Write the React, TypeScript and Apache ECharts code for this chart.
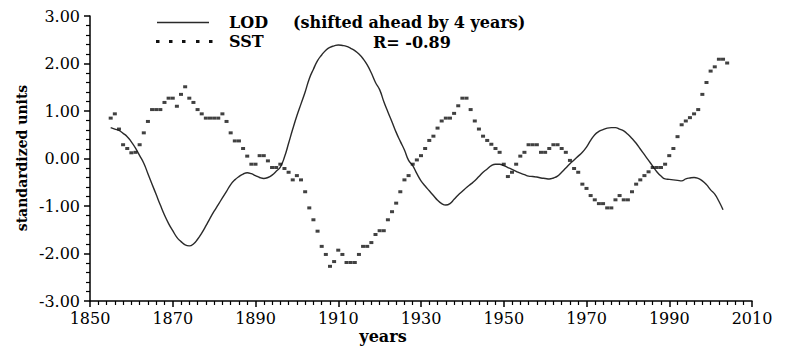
import React, { useEffect, useRef } from "react";
import * as echarts from "echarts";

const lodStartYear = 1855;
const lodValues = [
  0.65, 0.62, 0.59, 0.53, 0.46, 0.35, 0.22, 0.06, -0.10, -0.32,
  -0.54, -0.76, -0.98, -1.19, -1.37, -1.52, -1.66, -1.75, -1.82, -1.84,
  -1.80, -1.70, -1.57, -1.42, -1.26, -1.11, -0.97, -0.83, -0.69, -0.55,
  -0.45, -0.38, -0.33, -0.30, -0.32, -0.36, -0.40, -0.42, -0.40, -0.35,
  -0.27, -0.18, 0.03, 0.32, 0.62, 0.90, 1.15, 1.40, 1.68, 1.88,
  2.06, 2.18, 2.28, 2.34, 2.37, 2.39, 2.38, 2.36, 2.32, 2.27,
  2.20, 2.10, 1.97, 1.80, 1.60, 1.45, 1.20, 0.98, 0.77, 0.55,
  0.36, 0.18, -0.04, -0.15, -0.32, -0.47, -0.58, -0.68, -0.78, -0.88,
  -0.95, -0.98, -0.95, -0.86, -0.77, -0.69, -0.61, -0.54, -0.47, -0.38,
  -0.29, -0.22, -0.15, -0.12, -0.12, -0.15, -0.19, -0.23, -0.27, -0.31,
  -0.34, -0.37, -0.38, -0.39, -0.41, -0.42, -0.43, -0.41, -0.37, -0.29,
  -0.20, -0.11, -0.03, 0.05, 0.13, 0.24, 0.38, 0.50, 0.57, 0.61,
  0.64, 0.65, 0.65, 0.62, 0.58, 0.51, 0.42, 0.32, 0.20, 0.08,
  -0.04, -0.16, -0.28, -0.37, -0.43, -0.44, -0.45, -0.46, -0.47, -0.43,
  -0.41, -0.40, -0.42, -0.47, -0.55, -0.66, -0.75, -0.90, -1.08,
];

const sstStartYear = 1855;
const sstValues = [
  0.85, 0.94, 0.62, 0.29, 0.21, 0.12, 0.13, 0.29, 0.54, 0.78,
  1.03, 1.03, 1.03, 1.18, 1.27, 1.27, 1.10, 1.35, 1.51, 1.27,
  1.18, 1.03, 0.94, 0.85, 0.85, 0.85, 0.85, 0.94, 0.78, 0.54,
  0.37, 0.37, 0.21, 0.05, -0.12, -0.12, 0.06, 0.06, -0.05, -0.19,
  -0.19, -0.12, -0.21, -0.29, -0.45, -0.36, -0.45, -0.70, -1.04, -1.29,
  -1.53, -1.85, -2.02, -2.27, -2.17, -1.93, -2.02, -2.19, -2.19, -2.19,
  -2.02, -1.85, -1.85, -1.77, -1.60, -1.52, -1.52, -1.29, -1.12, -0.94,
  -0.70, -0.45, -0.36, -0.12, -0.03, 0.06, 0.21, 0.38, 0.47, 0.64,
  0.79, 0.85, 0.85, 0.95, 1.11, 1.27, 1.27, 1.03, 0.79, 0.62,
  0.47, 0.38, 0.30, 0.21, 0.13, -0.12, -0.38, -0.29, -0.12, 0.05,
  0.13, 0.29, 0.29, 0.29, 0.13, 0.13, 0.21, 0.29, 0.29, 0.21,
  0.13, -0.04, -0.21, -0.29, -0.54, -0.63, -0.78, -0.87, -0.95, -0.95,
  -1.04, -1.04, -0.87, -0.78, -0.87, -0.87, -0.70, -0.54, -0.45, -0.36,
  -0.28, -0.19, -0.19, -0.19, -0.12, 0.06, 0.21, 0.46, 0.71, 0.79,
  0.86, 0.94, 1.03, 1.35, 1.60, 1.84, 1.93, 2.09, 2.09, 2.01,
];

const xMin = 1850;
const xMax = 2010;
const xStep = 20;
const yMin = -3;
const yMax = 3;
const yStep = 1;

const legendLine = "LOD";
const legendNote = "(shifted ahead by 4 years)";
const legendDots = "SST";
const corrText = "R= -0.89";
const xName = "years";
const yName = "standardized units";

export default function App() {
  const ref = useRef<HTMLDivElement>(null);

  useEffect(() => {
    if (!ref.current) return;
    const chart = echarts.init(ref.current, null, { renderer: "svg" });
    const font = "DejaVu Serif";
    const lodData = lodValues.map((v, i) => [lodStartYear + i, v]);
    const sstData = sstValues.map((v, i) => [sstStartYear + i, v]);
    const dotXs = [156, 169, 182, 196, 209];

    chart.setOption({
      animation: false,
      backgroundColor: "#ffffff",
      grid: { left: 90, right: 58, top: 16, bottom: 56 },
      xAxis: {
        type: "value",
        min: xMin,
        max: xMax,
        interval: xStep,
        axisLine: { show: true, onZero: false, lineStyle: { color: "#000", width: 1.5 } },
        axisTick: { show: true, length: 6, lineStyle: { color: "#000", width: 1.5 } },
        minorTick: { show: true, splitNumber: 10, length: 4, lineStyle: { color: "#000", width: 1.2 } },
        axisLabel: {
          color: "#000",
          fontFamily: font,
          fontSize: 16,
          margin: 9,
          formatter: (v: number) => String(v),
        },
        splitLine: { show: false },
        minorSplitLine: { show: false },
      },
      yAxis: {
        type: "value",
        min: yMin,
        max: yMax,
        interval: yStep,
        axisLine: { show: true, onZero: false, lineStyle: { color: "#000", width: 1.5 } },
        axisTick: { show: true, length: 6, lineStyle: { color: "#000", width: 1.5 } },
        minorTick: { show: true, splitNumber: 5, length: 4, lineStyle: { color: "#000", width: 1.2 } },
        axisLabel: {
          color: "#000",
          fontFamily: font,
          fontSize: 16,
          margin: 10,
          formatter: (v: number) => v.toFixed(2),
        },
        splitLine: { show: false },
      },
      series: [
        {
          name: "LOD",
          type: "line",
          data: lodData,
          showSymbol: false,
          smooth: true,
          lineStyle: { color: "#2a2a2a", width: 1.4 },
          z: 2,
        },
        {
          name: "SST",
          type: "scatter",
          data: sstData,
          symbol: "rect",
          symbolSize: [4, 3],
          itemStyle: { color: "#111" },
          z: 3,
        },
      ],
      graphic: [
        {
          type: "line",
          shape: { x1: 157, y1: 22.5, x2: 209, y2: 22.5 },
          style: { stroke: "#2a2a2a", lineWidth: 1.4 },
        },
        ...dotXs.map((x) => ({
          type: "rect",
          shape: { x: x, y: 40, width: 3.5, height: 3 },
          style: { fill: "#111" },
        })),
        {
          type: "text",
          x: 229,
          y: 22,
          style: { text: legendLine, font: `bold 16px "${font}"`, fill: "#000", verticalAlign: "middle" },
        },
        {
          type: "text",
          x: 293,
          y: 22,
          style: { text: legendNote, font: `bold 16px "${font}"`, fill: "#000", verticalAlign: "middle" },
        },
        {
          type: "text",
          x: 229,
          y: 41,
          style: { text: legendDots, font: `bold 16px "${font}"`, fill: "#000", verticalAlign: "middle" },
        },
        {
          type: "text",
          x: 373,
          y: 42,
          style: { text: corrText, font: `bold 16px "${font}"`, fill: "#000", verticalAlign: "middle" },
        },
        {
          type: "text",
          x: 383,
          y: 336,
          style: { text: xName, font: `bold 16px "${font}"`, fill: "#000", align: "center", verticalAlign: "middle" },
        },
        {
          type: "text",
          x: 22,
          y: 158,
          rotation: Math.PI / 2,
          style: { text: yName, font: `bold 14px "${font}"`, fill: "#000", align: "center", verticalAlign: "middle" },
        },
      ],
    });

    return () => chart.dispose();
  }, []);

  return (
    <div
      ref={ref}
      style={{ position: "fixed", left: 0, top: 0, width: 810, height: 357, background: "#fff" }}
    />
  );
}
